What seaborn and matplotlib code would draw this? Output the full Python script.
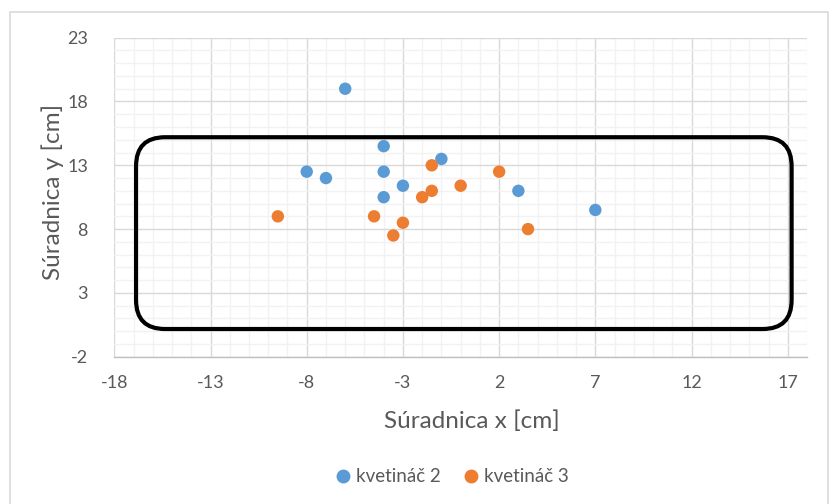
import numpy as np
import pandas as pd
import matplotlib
matplotlib.use("Agg")
import matplotlib.pyplot as plt
from matplotlib.patches import FancyBboxPatch, Rectangle
from matplotlib.lines import Line2D
from matplotlib.ticker import MultipleLocator, FixedLocator
import seaborn as sns

# Pot 2 and pot 3 positions
x_pot2 = [-6, -4, -1, -8, -7, -4, -3, -4, 3, 7]
y_pot2 = [19, 14.5, 13.5, 12.5, 12, 12.5, 11.4, 10.5, 11, 9.5]
x_pot3 = [-9.5, -4.5, -3, -3.5, -1.5, -1.5, -2, 0, 2, 3.5]
y_pot3 = [9, 9, 8.5, 7.5, 13, 11, 10.5, 11.4, 12.5, 8]
series_names = ["kvetináč 2", "kvetináč 3"]
x_ticks = [-18, -13, -8, -3, 2, 7, 12, 17]
y_ticks = [-2, 3, 8, 13, 18, 23]

# Tray outline (data units)
tray_x0, tray_x1 = -16.87, 17.2
tray_y0, tray_y1 = 0.17, 15.2

df = pd.DataFrame({
    "x": x_pot2 + x_pot3,
    "y": y_pot2 + y_pot3,
    "series": [series_names[0]] * len(x_pot2) + [series_names[1]] * len(x_pot3),
})

sns.set_theme(style="white")
plt.rcParams["font.family"] = ["Lato", "DejaVu Sans"]
plt.rcParams["axes.unicode_minus"] = False
text_color = "#595959"
palette = {series_names[0]: "#5B9BD5", series_names[1]: "#ED7D31"}

W, H = 833, 504
fig = plt.figure(figsize=(W / 100, H / 100), dpi=100)
fig.patch.set_facecolor("white")

# chart frame
fig.add_artist(Rectangle((10 / W, -0.1), (828 - 10) / W, (1.1 - 12.5 / H),
                         transform=fig.transFigure, fill=False,
                         edgecolor="#D9D9D9", linewidth=1.2))

left, right = 114.3, 807.0
top, bottom = 37.7, 356.7
ax = fig.add_axes([left / W, 1 - bottom / H, (right - left) / W, (bottom - top) / H])

sns.scatterplot(data=df, x="x", y="y", hue="series", palette=palette,
                s=80, edgecolor="none", linewidth=0, ax=ax, legend=False, zorder=4)

ax.set_xlim(-18, 18)
ax.set_ylim(-2, 23)
ax.xaxis.set_major_locator(FixedLocator(x_ticks))
ax.yaxis.set_major_locator(FixedLocator(y_ticks))
ax.xaxis.set_minor_locator(MultipleLocator(1))
ax.yaxis.set_minor_locator(MultipleLocator(1))
ax.grid(which="minor", color="#F2F2F2", linewidth=1.0, zorder=0)
ax.grid(which="major", color="#D9D9D9", linewidth=1.0, zorder=1)
ax.set_axisbelow(True)
for s in ["top", "right", "left"]:
    ax.spines[s].set_visible(False)
ax.spines["bottom"].set_color("#BFBFBF")
ax.spines["bottom"].set_linewidth(1.0)
ax.tick_params(axis="both", which="both", length=0, labelsize=13, colors=text_color)
ax.tick_params(axis="y", pad=19)
ax.tick_params(axis="x", pad=13)
ax.set_xlabel("")
ax.set_ylabel("")

# rounded tray outline; corners kept circular on screen
px_per_x = (right - left) / 36.0
px_per_y = (bottom - top) / 25.0
radius_x = 29 / px_per_x
tray = FancyBboxPatch((tray_x0, tray_y0), tray_x1 - tray_x0, tray_y1 - tray_y0,
                      boxstyle=f"round,pad=0,rounding_size={radius_x}",
                      mutation_aspect=px_per_x / px_per_y,
                      fill=False, edgecolor="black", linewidth=3.0, zorder=3,
                      clip_on=False)
ax.add_patch(tray)

fig.text(472 / W, 1 - 421 / H, "Súradnica x [cm]", ha="center", va="center",
         fontsize=17.5, color=text_color)
fig.text(53 / W, 1 - 192 / H, "Súradnica y [cm]", ha="center", va="center",
         rotation=90, fontsize=17.5, color=text_color)

handles = [Line2D([], [], marker="o", linestyle="none", markersize=10,
                  markerfacecolor=palette[n], markeredgecolor="none") for n in series_names]
fig.legend(handles, series_names, loc="center", bbox_to_anchor=(452 / W, 1 - 477 / H),
           ncol=2, frameon=False, fontsize=13.5, labelcolor=text_color,
           handletextpad=0.25, columnspacing=1.15, handlelength=0.9)

fig.savefig("out.png", dpi=100, facecolor="white")
